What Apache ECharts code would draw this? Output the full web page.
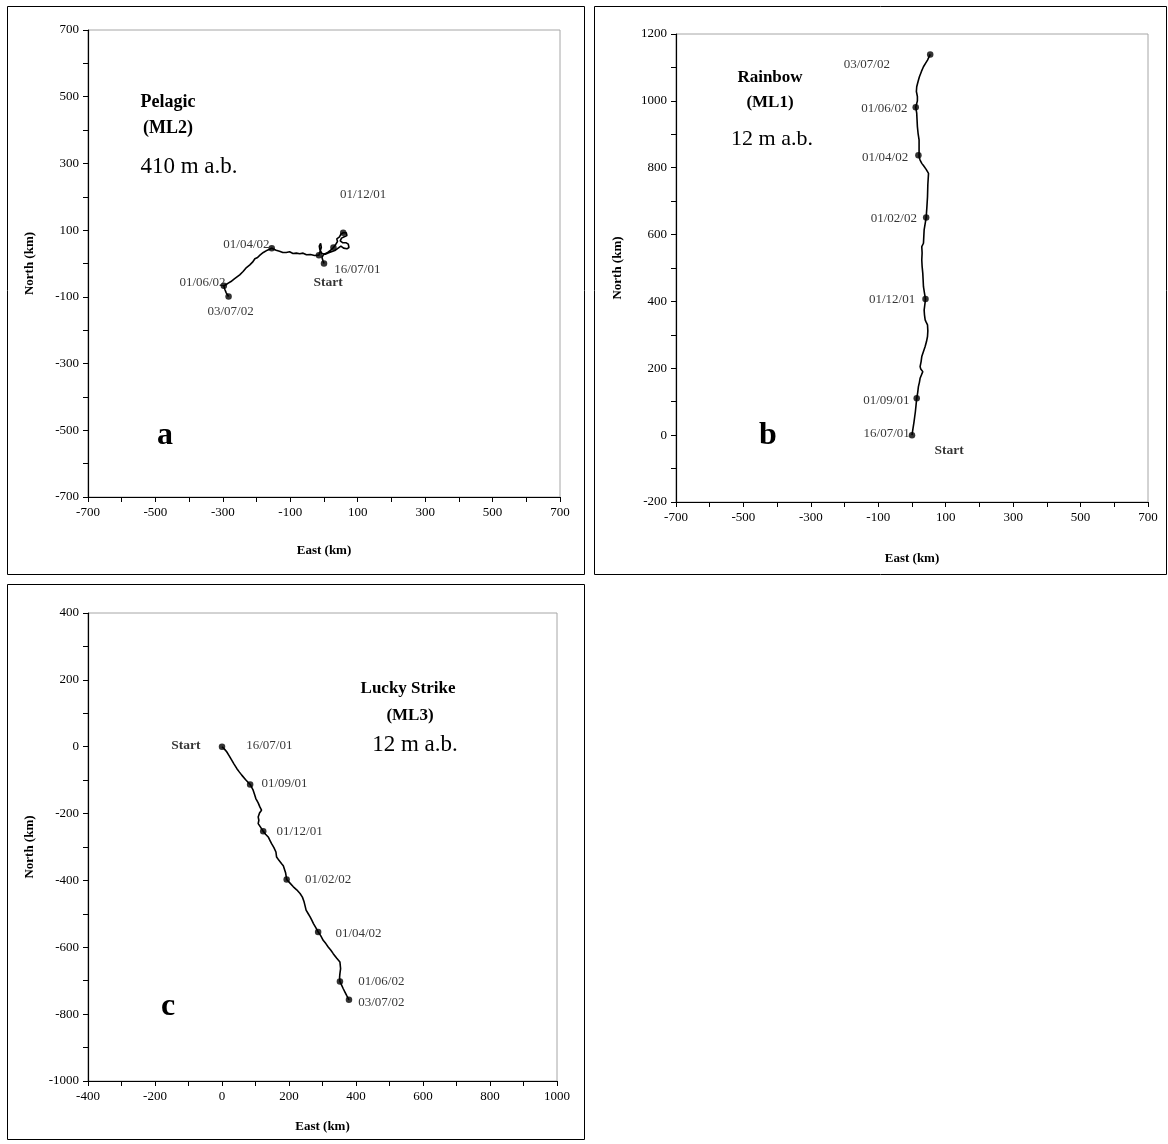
<!DOCTYPE html>
<html><head><meta charset="utf-8">
<script src="https://cdn.jsdelivr.net/npm/echarts@6/dist/echarts.min.js"></script>
<style>html,body{margin:0;padding:0;background:#fff}#c{width:1168px;height:1144px}</style>
</head><body><div id="c"></div>
<script>
// ---------- DATA ----------
// Panel a: Pelagic (ML2), 410 m a.b. — trajectory [East km, North km]
const trackA = [[0,0],[-3,8],[-6,18],[-2,26],[5,30],[12,34],[20,40],[28,48],[34,56],[40,66],[38,74],[46,80],[50,88],[57,92],[66,92],[68,84],[60,80],[52,76],[48,68],[56,62],[66,62],[72,58],[74,48],[68,44],[58,46],[50,52],[42,46],[34,40],[24,36],[14,32],[4,28],[-6,30],[-12,40],[-14,52],[-10,60],[-8,48],[-12,35],[-15,25],[-28,24],[-40,27],[-52,26],[-62,31],[-72,29],[-82,31],[-92,30],[-102,35],[-112,33],[-122,33],[-132,37],[-142,40],[-155,46],[-168,40],[-180,33],[-190,25],[-197,18],[-205,14],[-212,4],[-220,-4],[-230,-12],[-240,-24],[-250,-34],[-258,-40],[-266,-46],[-276,-54],[-284,-59],[-290,-63],[-297,-67],[-294,-78],[-290,-88],[-283,-99]];
const datesA = [[0,0,'16/07/01'],[28,48,''],[57,92,'01/12/01'],[-15,25,''],[-155,46,'01/04/02'],[-297,-67,'01/06/02'],[-283,-99,'03/07/02']];

// Panel b: Rainbow (ML1), 12 m a.b.
const trackB = [[0,0],[3,20],[6,40],[8,55],[10,70],[12,90],[14,110],[17,128],[19,145],[22,158],[24,170],[28,180],[32,190],[26,198],[24,205],[27,220],[29,235],[34,250],[39,265],[43,280],[46,295],[47,312],[46,330],[42,338],[39,345],[37,360],[36,374],[38,390],[40,407],[37,425],[34,444],[33,465],[32,484],[30,505],[29,524],[30,545],[29,564],[34,574],[36,614],[42,651],[44,680],[46,713],[47,750],[49,783],[42,795],[35,805],[29,813],[24,823],[21,833],[19,837],[21,860],[21,883],[18,903],[16,923],[15,943],[14,963],[11,981],[16,1000],[16,1013],[13,1028],[14,1042],[18,1058],[22,1072],[28,1088],[34,1102],[40,1112],[46,1122],[54,1139]];
const datesB = [[0,0,'16/07/01'],[14,110,'01/09/01'],[40,407,'01/12/01'],[42,651,'01/02/02'],[19,837,'01/04/02'],[11,981,'01/06/02'],[54,1139,'03/07/02']];

// Panel c: Lucky Strike (ML3), 12 m a.b.
const trackC = [[0,0],[8,-8],[14,-15],[22,-28],[29,-40],[36,-52],[44,-65],[52,-76],[59,-85],[70,-98],[84,-113],[93,-130],[97,-142],[101,-155],[108,-168],[113,-180],[118,-190],[112,-198],[108,-210],[110,-220],[108,-230],[116,-242],[123,-253],[130,-262],[138,-270],[143,-280],[148,-290],[155,-302],[161,-315],[163,-330],[170,-340],[178,-350],[183,-356],[188,-360],[190,-378],[193,-397],[203,-408],[213,-419],[223,-428],[233,-439],[240,-450],[245,-464],[248,-476],[251,-489],[257,-499],[263,-509],[268,-519],[273,-529],[280,-541],[287,-554],[295,-566],[302,-579],[310,-589],[317,-599],[325,-609],[332,-619],[342,-632],[352,-644],[354,-664],[352,-679],[351,-690],[352,-702],[357,-713],[362,-724],[367,-734],[372,-744],[379,-757]];
const datesC = [[0,0,'16/07/01'],[84,-113,'01/09/01'],[123,-253,'01/12/01'],[193,-397,'01/02/02'],[287,-554,'01/04/02'],[352,-702,'01/06/02'],[379,-757,'03/07/02']];

const startA = [0,0], startB = [0,0], startC = [0,0];

// Axis ranges (km) and tick settings
const xRangeA = [-700, 700], yRangeA = [-700, 700];
const xRangeB = [-700, 700], yRangeB = [-200, 1200];
const xRangeC = [-400, 1000], yRangeC = [-1000, 400];
const tickStep = 100, labelStep = 200;

const titlesA = ['Pelagic', '(ML2)', '410 m a.b.', 'a'];
const titlesB = ['Rainbow', '(ML1)', '12 m a.b.', 'b'];
const titlesC = ['Lucky Strike', '(ML3)', '12 m a.b.', 'c'];
const xName = 'East (km)', yName = 'North (km)';

// ---------- LAYOUT / STYLE ----------
const FONT = '"Liberation Serif", "Times New Roman", serif';
const grids = [
  {left: 88, top: 30, width: 472, height: 467},
  {left: 676, top: 34, width: 472, height: 468},
  {left: 88, top: 613, width: 469, height: 468}
];
const nameGapX = [47, 50, 39], nameGapY = [52, 52, 52];
// label placement per dated marker: [position, dx, dy]
const labPosA = [['right',4,6],['right',0,0],['top',20,-25],['right',0,0],['left',4,-4],['left',8,-3],['bottom',2,2]];
const labPosB = [['left',4,-2],['left',-1,2],['left',-4,0],['left',-3,1],['left',-4,2],['left',-2,1],['left',-34,10]];
const labPosC = [['right',18,-1],['right',5,-1],['right',7,0],['right',12,0],['right',11,2],['right',12,0],['right',3,3]];
const startPos = [['bottom',4,10],['right',20,15],['left',-19,-1]];

function axisCfg(range, gi, isX) {
  const min = range[0];
  return {
    type: 'value', gridIndex: gi, min: range[0], max: range[1], interval: tickStep,
    name: isX ? xName : yName, nameLocation: 'middle',
    nameGap: isX ? nameGapX[gi] : nameGapY[gi], nameRotate: isX ? 0 : 90,
    nameTextStyle: {fontFamily: FONT, fontWeight: 'bold', fontSize: 13, color: '#000'},
    axisLine: {show: true, onZero: false, lineStyle: {color: '#000', width: 1.2}},
    axisTick: {show: true, inside: false, length: 5, lineStyle: {color: '#000', width: 1}},
    axisLabel: {fontFamily: FONT, fontSize: 13, color: '#000', margin: 9, hideOverlap: false,
      formatter: v => ((Math.round(v - min) % labelStep) === 0 ? String(Math.round(v)) : '')},
    splitLine: {show: false}
  };
}

function markerSeries(gi, dates, pos) {
  return {
    type: 'scatter', xAxisIndex: gi, yAxisIndex: gi, symbol: 'circle', symbolSize: 6.5,
    itemStyle: {color: '#000'}, z: 5,
    data: dates.map((d, i) => ({
      value: [d[0], d[1]],
      label: {show: d[2] !== '', formatter: d[2], position: pos[i][0], offset: [pos[i][1], pos[i][2]],
        distance: 3, fontFamily: FONT, fontSize: 13, color: '#000'}
    }))
  };
}
function startSeries(gi, pt) {
  return {
    type: 'scatter', xAxisIndex: gi, yAxisIndex: gi, symbolSize: 1, itemStyle: {color: 'rgba(0,0,0,0)'},
    data: [{value: pt, label: {show: true, formatter: 'Start', position: startPos[gi][0],
      offset: [startPos[gi][1], startPos[gi][2]], distance: 2,
      fontFamily: FONT, fontSize: 13.5, fontWeight: 'bold', color: '#000'}}]
  };
}
function trackSeries(gi, tr) {
  return {type: 'line', xAxisIndex: gi, yAxisIndex: gi, data: tr, showSymbol: false, smooth: false,
    lineStyle: {color: '#000', width: 1.6}, z: 4, silent: true, animation: false};
}

function txt(x, y, t, size, bold) {
  return {type: 'text', x: x, y: y, z: 10, style: {text: t, fontFamily: FONT, fontSize: size,
    fontWeight: bold ? 'bold' : 'normal', fill: '#000', align: 'center', verticalAlign: 'middle'}};
}
function frame(x, y, w, h) {
  return {type: 'rect', shape: {x: x, y: y, width: w, height: h}, z: 0,
    style: {fill: null, stroke: '#000', lineWidth: 1}};
}

const chart = echarts.init(document.getElementById('c'), null, {renderer: 'canvas'});
chart.setOption({
  animation: false,
  backgroundColor: '#fff',
  grid: grids.map(g => Object.assign({show: true, borderColor: '#a6a6a6', borderWidth: 1, backgroundColor: 'transparent'}, g)),
  xAxis: [axisCfg(xRangeA, 0, true), axisCfg(xRangeB, 1, true), axisCfg(xRangeC, 2, true)],
  yAxis: [axisCfg(yRangeA, 0, false), axisCfg(yRangeB, 1, false), axisCfg(yRangeC, 2, false)],
  series: [
    trackSeries(0, trackA), markerSeries(0, datesA, labPosA), startSeries(0, startA),
    trackSeries(1, trackB), markerSeries(1, datesB, labPosB), startSeries(1, startB),
    trackSeries(2, trackC), markerSeries(2, datesC, labPosC), startSeries(2, startC)
  ],
  graphic: [
    frame(7.5, 6.5, 577, 568), frame(594.5, 6.5, 572, 568), frame(7.5, 584.5, 577, 555),
    txt(168, 102, titlesA[0], 18, true), txt(168, 128, titlesA[1], 18, true),
    txt(189, 167, titlesA[2], 23, false), txt(165, 436, titlesA[3], 32, true),
    txt(770, 78, titlesB[0], 17, true), txt(770, 103, titlesB[1], 17, true),
    txt(772, 139, titlesB[2], 22, false), txt(768, 436, titlesB[3], 32, true),
    txt(408, 689, titlesC[0], 17, true), txt(410, 716, titlesC[1], 17, true),
    txt(415, 745, titlesC[2], 23, false), txt(168, 1007, titlesC[3], 32, true)
  ]
});
</script></body></html>
